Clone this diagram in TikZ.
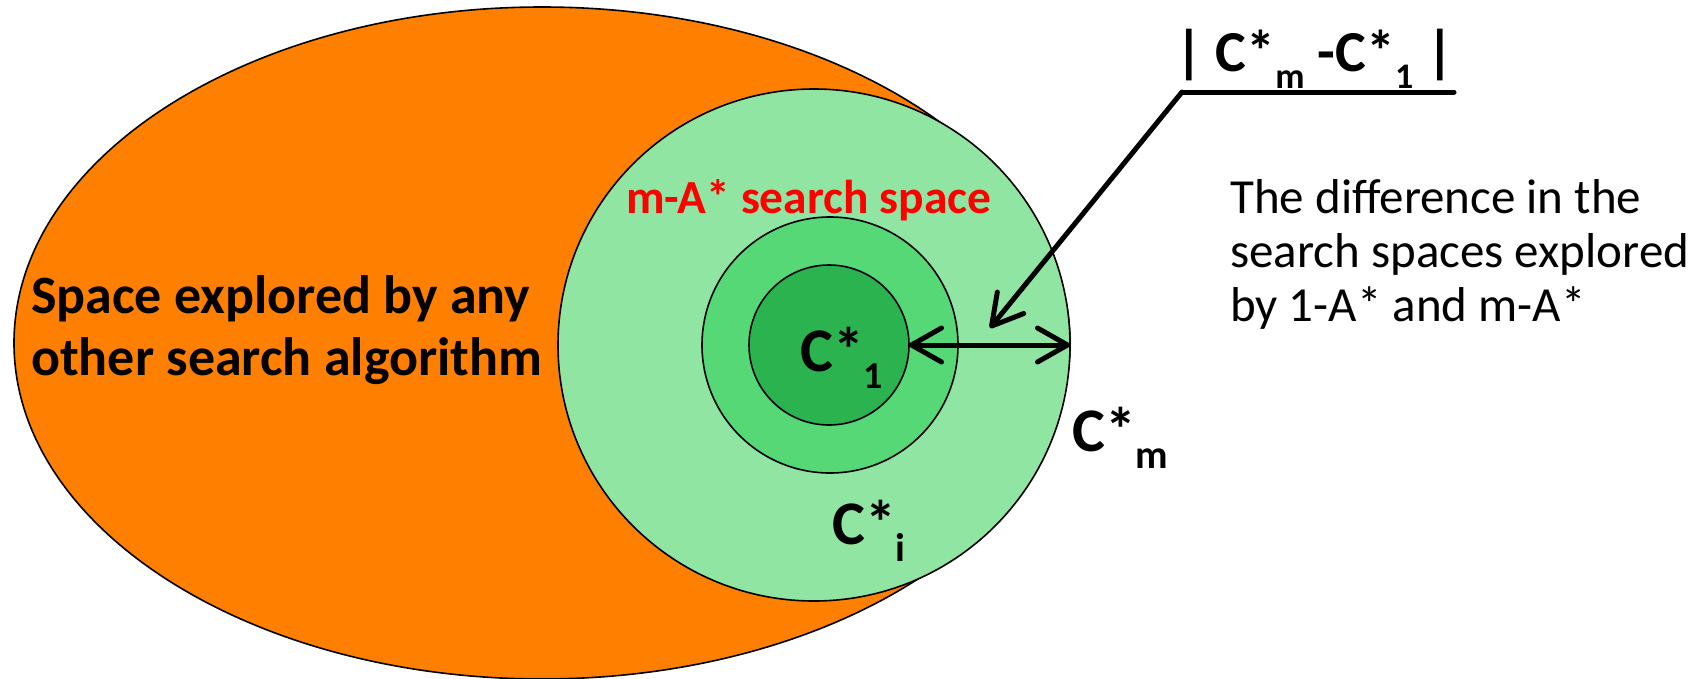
\documentclass[tikz,border=0pt]{standalone}
\usepackage{fontspec}
\setmainfont{Carlito}
\usetikzlibrary{arrows.meta,shapes.geometric}
\definecolor{orng}{RGB}{255,127,0}
\definecolor{gA}{RGB}{145,229,163}
\definecolor{gB}{RGB}{86,216,118}
\definecolor{gC}{RGB}{43,179,80}
\definecolor{lblred}{RGB}{255,0,0}
\newcommand{\Cst}[2]{C*\raisebox{-17pt}{\fontsize{#2}{#2}\selectfont #1}}
\tikzset{
  region/.style={draw=black, line width=1.6pt, inner sep=0pt, outer sep=0pt},
  boldlbl/.style={inner sep=0pt, anchor=base west, font=\bfseries\fontsize{54}{60}\selectfont},
  clbl/.style={inner sep=0pt, anchor=base west, font=\bfseries\fontsize{62}{66}\selectfont},
  redlbl/.style={inner sep=0pt, anchor=base west, text=lblred, font=\bfseries\fontsize{47.5}{52}\selectfont},
  notelbl/.style={inner sep=0pt, anchor=base west, font=\fontsize{49}{54}\selectfont},
  conn/.style={line width=5pt, line cap=round, line join=round},
  barb/.tip={Straight Barb[length=30pt,width=34pt,round]}
}
\begin{document}
\begin{tikzpicture}[x=1pt,y=-1pt]
\useasboundingbox (0,0) rectangle (1705,678);
% regions
\node[region, ellipse, fill=orng, minimum width=1056pt, minimum height=672pt] (any) at (542,343) {};
\node[region, circle, fill=gA, minimum size=512pt] (ma) at (814,345) {};
\node[region, circle, fill=gB, minimum size=256pt] (ci) at (830,345) {};
\node[region, circle, fill=gC, minimum size=160pt] (c1) at (829,345) {};
% labels
\node[boldlbl] (any1) at (31,313) {Space explored by any};
\node[boldlbl] (any2) at (31,375) {other search algorithm};
\node[redlbl] (malbl) at (626,213) {m-A* search space};
\node[clbl] (c1lbl) at (800,371) {\Cst{1}{38}};
\node[clbl] (cmlbl) at (1072,451) {\Cst{m}{40}};
\node[clbl] (cilbl) at (832,544) {\Cst{i}{40}};
\node[inner sep=0pt, anchor=base west, font=\bfseries\fontsize{58}{62}\selectfont] (diff) at (1175,71) {| \Cst{m}{36} -\Cst{1}{36} |};
\node[notelbl] (n1) at (1230,213) {The difference in the};
\node[notelbl] (n2) at (1230,267) {search spaces explored};
\node[notelbl] (n3) at (1230,321) {by 1-A* and m-A*};
% connectors
\coordinate (ulend) at (1454,92);
\coordinate (corner) at (1182,92);
\coordinate (tipA) at (990,328);
\draw[conn] (ulend) -- (corner);
\draw[conn, -barb] (corner) -- (tipA);
\draw[conn, barb-barb] (c1.east) -- (ma.east);
\end{tikzpicture}
\end{document}
